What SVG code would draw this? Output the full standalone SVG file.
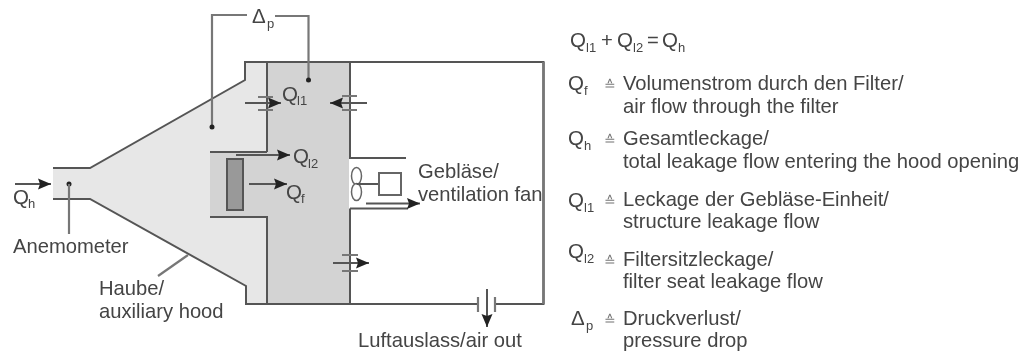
<svg xmlns="http://www.w3.org/2000/svg" width="1018" height="352" viewBox="0 0 1018 352">
<style>
text{font-family:"Liberation Sans",Arial,sans-serif;font-size:20.2px;fill:#444}
.s{font-size:13px}
.q{font-size:20.500px}
.e{font-size:13.500px;fill:#777}
.l{fill:none;stroke:#555;stroke-width:2}
.t{fill:none;stroke:#777;stroke-width:2.2}
.a{fill:none;stroke:#555;stroke-width:2;marker-end:url(#ah)}
</style>
<defs>
<marker id="ah" markerUnits="userSpaceOnUse" markerWidth="14" markerHeight="12" refX="13" refY="6" orient="auto"><path d="M0 0.500L13 6L0 11.500L2 6Z" fill="#222"/></marker>
<filter id="b" x="-2%" y="-2%" width="104%" height="104%"><feGaussianBlur stdDeviation="0.6"/></filter>
</defs>
<rect width="1018" height="352" fill="#fff"/>
<g filter="url(#b)">
<g id="hood">
<path d="M53 168H90L245 80V62H267V304H246V286L90 199H53Z" fill="#e7e7e7"/>
<path d="M210 152H267V62H349V304H267V217H210Z" fill="#d3d3d3"/>
<path d="M53 168H90L245 80V62H543.500V304H495M478 304H246V286L90 199H53" class="l"/>
</g>
<g id="walls">
<path d="M267 62V152M210 152H267M210 217H267V304" class="l"/>
<path d="M350 62V158H406M350 208.500H408M350 208.500V304" class="l"/>
<path d="M543.500 62V304" fill="none" stroke="#777" stroke-width="2.600"/>
</g>
<g id="filter"><rect x="227" y="159" width="16" height="51" fill="#999" stroke="#555" stroke-width="2"/></g>
<g id="fan">
<ellipse cx="356.500" cy="176" rx="5" ry="8.500" fill="#fff" stroke="#666" stroke-width="1.500"/>
<ellipse cx="356.500" cy="192" rx="5" ry="8.500" fill="#fff" stroke="#666" stroke-width="1.500"/>
<path d="M356.500 184H378" class="l"/>
<rect x="379" y="173" width="22" height="22" fill="#fff" stroke="#666" stroke-width="2"/>
</g>
<g id="connectors">
<path d="M247 15H212V127M275 16H308.500V80" class="t"/>
<circle cx="212" cy="127" r="2.500" fill="#222"/>
<circle cx="308.500" cy="80" r="2.500" fill="#222"/>
<path d="M15 184H51" class="a"/>
<circle cx="69" cy="184" r="2.500" fill="#222"/>
<path d="M69 184V234" class="t" stroke-width="1.500"/>
<path d="M188 255L158 276" class="t" stroke-width="1.500"/>
<path d="M245 103H281" class="a"/>
<path d="M258 97H273M258 110H273" class="t"/>
<path d="M367 103H330" class="a"/>
<path d="M342 96H357M342 110H357" class="t"/>
<path d="M333 263H369" class="a"/>
<path d="M342 255H358M342 271H358" class="t"/>
<path d="M236 155H290" class="a"/>
<path d="M249 184H287" class="a"/>
<path d="M366 203.500H420" class="a"/>
<path d="M487 289V327" class="a"/>
<path d="M478 297V312M495 297V312" class="t"/>
</g>
<g id="labels">
<text x="252" y="23" class="q">Δ</text><text x="267" y="28" class="s">p</text>
<text x="282" y="101" class="q">Q</text><text x="297" y="105" class="s">l1</text>
<text x="293" y="163" class="q">Q</text><text x="308" y="168" class="s">l2</text>
<text x="286" y="199" class="q">Q</text><text x="301" y="203" class="s">f</text>
<text x="13" y="204" class="q">Q</text><text x="28" y="208" class="s">h</text>
<text x="13" y="253">Anemometer</text>
<text x="99" y="295">Haube/</text>
<text x="99" y="318">auxiliary hood</text>
<text x="418" y="178">Gebläse/</text>
<text x="418" y="201">ventilation fan</text>
<text x="358" y="347">Luftauslass/air out</text>
</g>
<g id="legend">
<text x="570" y="47" class="q">Q</text><text x="586" y="52" class="s">l1</text><text x="601" y="47">+</text><text x="617" y="47" class="q">Q</text><text x="633" y="52" class="s">l2</text><text x="647" y="47">=</text><text x="662" y="47" class="q">Q</text><text x="678" y="52" class="s">h</text>
<text x="568" y="90" class="q">Q</text><text x="584" y="95" class="s">f</text><text x="604" y="90" class="e">≙</text>
<text x="623" y="90">Volumenstrom durch den Filter/</text><text x="623" y="113">air flow through the filter</text>
<text x="568" y="145" class="q">Q</text><text x="584" y="150" class="s">h</text><text x="604" y="145" class="e">≙</text>
<text x="623" y="145">Gesamtleckage/</text><text x="623" y="168">total leakage flow entering the hood opening</text>
<text x="568" y="207" class="q">Q</text><text x="584" y="212" class="s">l1</text><text x="604" y="206" class="e">≙</text>
<text x="623" y="206">Leckage der Gebläse-Einheit/</text><text x="623" y="228">structure leakage flow</text>
<text x="568" y="258" class="q">Q</text><text x="584" y="263" class="s">l2</text><text x="604" y="266" class="e">≙</text>
<text x="623" y="266">Filtersitzleckage/</text><text x="623" y="288">filter seat leakage flow</text>
<text x="571" y="325" class="q">Δ</text><text x="586" y="330" class="s">p</text><text x="604" y="325" class="e">≙</text>
<text x="623" y="325">Druckverlust/</text><text x="623" y="347">pressure drop</text>
</g>
</g>
</svg>
